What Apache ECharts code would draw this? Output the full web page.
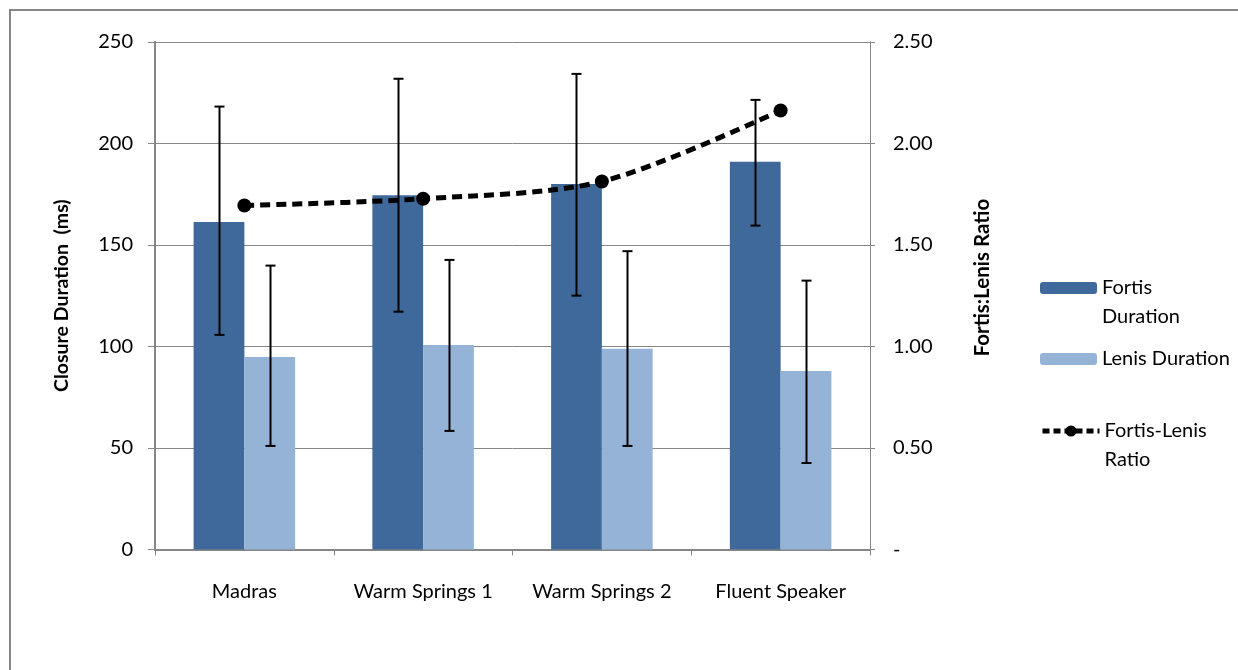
<!DOCTYPE html>
<html>
<head>
<meta charset="utf-8">
<script src="https://cdn.jsdelivr.net/npm/echarts@6/dist/echarts.min.js"></script>
<style>
html,body{margin:0;padding:0;background:#fff;}
#chart{width:1238px;height:670px;}
</style>
</head>
<body>
<div id="chart"></div>
<script>
const categories = ['Madras', 'Warm Springs 1', 'Warm Springs 2', 'Fluent Speaker'];
const fortisDuration = [161.3, 174.5, 180.0, 190.9];
const fortisErrLow = [105.7, 117.1, 125.0, 159.5];
const fortisErrHigh = [218.1, 231.8, 234.2, 221.4];
const lenisDuration = [94.8, 100.7, 98.8, 87.9];
const lenisErrLow = [51.0, 58.4, 51.0, 42.6];
const lenisErrHigh = [139.8, 142.6, 146.9, 132.4];
const ratio = [1.694, 1.727, 1.812, 2.162];
const leftTicks = [0, 250, 50];
const rightTicks = [0, 2.5, 0.5];

const FONT = 'Lato';
const AXIS_GRAY = '#868686';
const BAR_FRAC = 0.284;

function errData(lo, hi) {
  return categories.map((c, i) => [i, lo[i], hi[i]]);
}
function errRender(side) {
  return function (params, api) {
    const x = api.value(0);
    const band = api.size([1, 0])[0];
    const off = side * band * BAR_FRAC / 2;
    const p1 = api.coord([x, api.value(1)]);
    const p2 = api.coord([x, api.value(2)]);
    const cx = Math.round(p1[0] + off) + 0.5;
    const cap = 5;
    const st = { stroke: '#000', lineWidth: 2 };
    return {
      type: 'group',
      children: [
        { type: 'line', shape: { x1: cx, y1: p1[1], x2: cx, y2: p2[1] }, style: st },
        { type: 'line', shape: { x1: cx - cap, y1: p1[1], x2: cx + cap, y2: p1[1] }, style: st },
        { type: 'line', shape: { x1: cx - cap, y1: p2[1], x2: cx + cap, y2: p2[1] }, style: st }
      ]
    };
  };
}

const chart = echarts.init(document.getElementById('chart'), null, { renderer: 'canvas' });
const legendText = { fontFamily: FONT, fontSize: 20, color: '#000', lineHeight: 29 };
chart.setOption({
  animation: false,
  backgroundColor: '#fff',
  textStyle: { fontFamily: FONT },
  graphic: [{
    type: 'rect', shape: { x: 10, y: 10, width: 1260, height: 700 },
    style: { fill: 'none', stroke: AXIS_GRAY, lineWidth: 2 }, silent: true, z: -10
  }],
  grid: { left: 155, right: 368, top: 41.8, bottom: 120.5, containLabel: false },
  legend: [
    {
      data: ['Fortis Duration'], orient: 'vertical', left: 1040, top: 244.5, padding: 0,
      itemWidth: 57, itemHeight: 12, selectedMode: false,
      formatter: () => '\u00a0\nFortis\nDuration',
      textStyle: legendText
    },
    {
      data: ['Lenis Duration'], orient: 'vertical', left: 1040, top: 344.5, padding: 0,
      itemWidth: 57, itemHeight: 12, selectedMode: false,
      textStyle: legendText
    },
    {
      data: ['Fortis-Lenis Ratio'], orient: 'vertical', left: 1040, top: 387.5, padding: 0,
      itemWidth: 57, itemHeight: 14, selectedMode: false,
      formatter: () => '\u00a0\nFortis-Lenis\nRatio',
      lineStyle: { width: 5, type: [7, 4] },
      textStyle: legendText
    }
  ],
  xAxis: {
    type: 'category', data: categories, boundaryGap: true,
    axisLine: { lineStyle: { color: AXIS_GRAY, width: 2 } },
    axisTick: { show: true, length: 6, alignWithLabel: false, lineStyle: { color: AXIS_GRAY, width: 1 } },
    axisLabel: { fontFamily: FONT, fontSize: 20, color: '#000', margin: 32, interval: 0 },
    splitLine: { show: false }
  },
  yAxis: [
    {
      type: 'value', min: leftTicks[0], max: leftTicks[1], interval: leftTicks[2], position: 'left',
      name: 'Closure Duration  (ms)', nameLocation: 'middle', nameGap: 83, nameRotate: 90,
      nameTextStyle: { fontFamily: FONT, fontSize: 19.5, fontWeight: 'bold', color: '#000' },
      axisLine: { show: true, lineStyle: { color: AXIS_GRAY, width: 2 } },
      axisTick: { show: true, length: 7, lineStyle: { color: AXIS_GRAY, width: 1 } },
      axisLabel: { fontFamily: FONT, fontSize: 20, color: '#000', margin: 22 },
      splitLine: { show: true, lineStyle: { color: AXIS_GRAY, width: 1 } }
    },
    {
      type: 'value', min: rightTicks[0], max: rightTicks[1], interval: rightTicks[2], position: 'right',
      name: 'Fortis:Lenis Ratio', nameLocation: 'middle', nameGap: 102, nameRotate: 90,
      nameTextStyle: { fontFamily: FONT, fontSize: 20.5, fontWeight: 'bold', color: '#000', padding: [0, 0, 0, 36] },
      axisLine: { show: true, lineStyle: { color: AXIS_GRAY, width: 1 } },
      axisTick: { show: true, length: 5, lineStyle: { color: AXIS_GRAY, width: 1 } },
      axisLabel: {
        fontFamily: FONT, fontSize: 20, color: '#000', margin: 23,
        formatter: v => (v === 0 ? '-' : v.toFixed(2))
      },
      splitLine: { show: false }
    }
  ],
  series: [
    {
      name: 'Fortis Duration', type: 'bar', data: fortisDuration, yAxisIndex: 0,
      barWidth: (BAR_FRAC * 100) + '%', barGap: '0%',
      itemStyle: { color: '#40699B' }, z: 2
    },
    {
      name: 'Lenis Duration', type: 'bar', data: lenisDuration, yAxisIndex: 0,
      barWidth: (BAR_FRAC * 100) + '%', barGap: '0%',
      itemStyle: { color: '#95B3D7' }, z: 2
    },
    {
      name: 'Fortis error', type: 'custom', yAxisIndex: 0, data: errData(fortisErrLow, fortisErrHigh),
      encode: { x: 0, y: [1, 2] }, renderItem: errRender(-1), z: 3, silent: true
    },
    {
      name: 'Lenis error', type: 'custom', yAxisIndex: 0, data: errData(lenisErrLow, lenisErrHigh),
      encode: { x: 0, y: [1, 2] }, renderItem: errRender(1), z: 3, silent: true
    },
    {
      name: 'Fortis-Lenis Ratio', type: 'line', data: ratio, yAxisIndex: 1,
      smooth: 0.3, symbol: 'circle', symbolSize: 14,
      lineStyle: { color: '#000', width: 5, type: [10, 6], cap: 'butt' },
      itemStyle: { color: '#000' }, z: 5
    }
  ]
});
</script>
</body>
</html>
